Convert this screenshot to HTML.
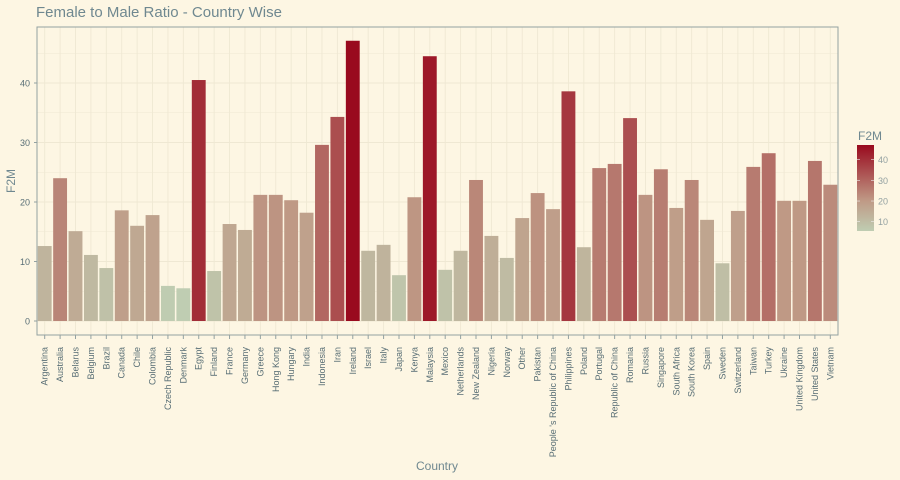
<!DOCTYPE html>
<html><head><meta charset="utf-8"><style>
body{margin:0;background:#fdf6e3;}
svg{display:block;font-family:"Liberation Sans",sans-serif;}
</style></head><body>
<svg id="c" width="900" height="480" xmlns="http://www.w3.org/2000/svg">
<defs><linearGradient id="g" x1="0" y1="1" x2="0" y2="0">
<stop offset="0" stop-color="#bfcdb2"/><stop offset="0.35" stop-color="#bf9a86"/><stop offset="1" stop-color="#990a1e"/></linearGradient></defs>
<rect width="900" height="480" fill="#fdf6e3"/>
<text x="36" y="17" font-size="15" fill="#6f8890">Female to Male Ratio - Country Wise</text>
<g id="grid"></g><g id="bars"></g><g id="axes"></g>
<text x="437" y="470" font-size="12" fill="#6f8890" text-anchor="middle">Country</text>
<text transform="translate(15,181) rotate(-90)" font-size="12" fill="#6f8890" text-anchor="middle">F2M</text>
<g>
<text x="858" y="140" font-size="12" fill="#6f8890">F2M</text>
<rect x="857" y="145" width="17" height="86" fill="url(#g)"/>
<g id="leg"></g></g>
</svg>
<script>
const categories=["Argentina","Australia","Belarus","Belgium","Brazil","Canada","Chile","Colombia","Czech Republic","Denmark","Egypt","Finland","France","Germany","Greece","Hong Kong","Hungary","India","Indonesia","Iran","Ireland","Israel","Italy","Japan","Kenya","Malaysia","Mexico","Netherlands","New Zealand","Nigeria","Norway","Other","Pakistan","People 's Republic of China","Philippines","Poland","Portugal","Republic of China","Romania","Russia","Singapore","South Africa","South Korea","Spain","Sweden","Switzerland","Taiwan","Turkey","Ukraine","United Kingdom","United States","Vietnam"];
const values=[12.6,24,15.1,11.1,8.9,18.6,16,17.8,5.9,5.5,40.5,8.4,16.3,15.3,21.2,21.2,20.3,18.2,29.6,34.3,47.1,11.8,12.8,7.7,20.8,44.5,8.6,11.8,23.7,14.3,10.6,17.3,21.5,18.8,38.6,12.4,25.7,26.4,34.1,21.2,25.5,19,23.7,17,9.7,18.5,25.9,28.2,20.2,20.2,26.9,22.9];
const yTicks=[0,10,20,30,40];
const legTicks=[10,20,30,40];
const NS="http://www.w3.org/2000/svg";
const L=37,R=838,T=27,B=335;
const y=v=>321-v*5.95;
const band=(R-L)/categories.length;
const x=i=>L+band*(i+0.5);
const mn=Math.min(...values),mx=Math.max(...values);
const stops=[[0,[191,205,178]],[0.35,[191,154,134]],[1,[153,10,30]]];
function col(v){let t=(v-mn)/(mx-mn);for(let k=1;k<stops.length;k++){if(t<=stops[k][0]){const a=stops[k-1],b=stops[k];const u=(t-a[0])/(b[0]-a[0]);return "rgb("+a[1].map((c,j)=>Math.round(c+(b[1][j]-c)*u)).join(",")+")";}}return "rgb(153,10,30)";}
function mk(tag,at,par){const e=document.createElementNS(NS,tag);for(const k in at)e.setAttribute(k,at[k]);document.getElementById(par).appendChild(e);return e;}
for(let v=-5;v<=50;v+=5){const yy=y(v);if(yy<T||yy>B)continue;const l=mk("line",{x1:L,x2:R,y1:yy,y2:yy,stroke:"#efe8d3","stroke-width":v%10==0?0.9:0.5},"grid");

}
categories.forEach((c,i)=>{const l=mk("line",{x1:x(i),x2:x(i),y1:T,y2:B,stroke:"#efe8d3","stroke-width":0.9},"grid");


const w=band*0.9;const r=mk("rect",{x:x(i)-w/2,y:y(values[i]),width:w,height:y(0)-y(values[i]),fill:col(values[i])},"bars");


const tk=mk("line",{x1:x(i),x2:x(i),y1:B,y2:B+4,stroke:"#93a1a1"},"axes");


const t=mk("text",{transform:"translate("+(x(i)+3)+","+(B+12)+") rotate(-90)","font-size":"9","fill":"#586e75","text-anchor":"end"},"axes");t.textContent=c;

});
const fr=mk("rect",{x:L,y:T,width:R-L,height:B-T,fill:"none",stroke:"#93a1a1","stroke-width":1},"axes");


yTicks.forEach(v=>{const tk=mk("line",{x1:L-3,x2:L,y1:y(v),y2:y(v),stroke:"#93a1a1"},"axes");


const t=mk("text",{x:L-7,y:y(v)+3.5,"font-size":"9","fill":"#586e75","text-anchor":"end"},"axes");t.textContent=v;

});
const ly=v=>231-(v-mn)/(mx-mn)*86;
legTicks.forEach(v=>{const t=mk("text",{x:878,y:ly(v)+3.5,"font-size":"9","fill":"#93a1a1"},"leg");t.textContent=v;


const a=mk("line",{x1:857,x2:860,y1:ly(v),y2:ly(v),stroke:"#eee","stroke-width":0.6},"leg");


const b=mk("line",{x1:871,x2:874,y1:ly(v),y2:ly(v),stroke:"#eee","stroke-width":0.6},"leg");

});
</script>
</body></html>
